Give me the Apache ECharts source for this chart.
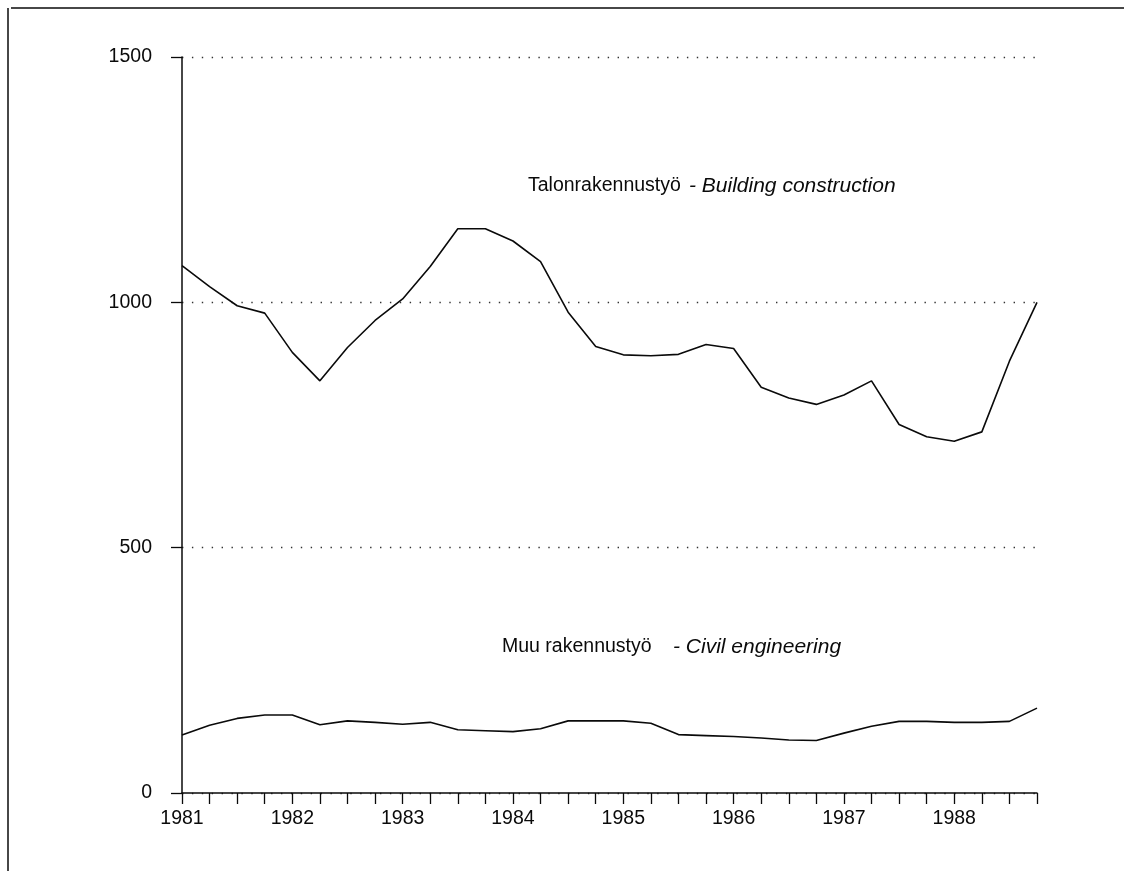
<!DOCTYPE html>
<html>
<head>
<meta charset="utf-8">
<script src="https://cdn.jsdelivr.net/npm/echarts@6/dist/echarts.min.js"></script>
<style>
  html, body { margin: 0; padding: 0; background: #fff; }
  #chart { width: 1124px; height: 871px; }
</style>
</head>
<body>
<div id="chart"></div>
<script>
const years = ['1981', '1982', '1983', '1984', '1985', '1986', '1987', '1988'];
const quarters = ['I', 'II', 'III', 'IV'];
const yTicks = [0, 500, 1000, 1500];

const building = [1075, 1032, 993, 978, 898, 840, 908, 963,
                  1007, 1073, 1150, 1150, 1125, 1083, 980, 910,
                  893, 891, 894, 914, 906, 827, 805, 792,
                  811, 840, 751, 726, 717, 736, 880, 1000];

const civil = [118, 138, 152, 159, 159, 139, 147, 144,
               140, 144, 129, 127, 125, 131, 147, 147,
               147, 142, 119, 117, 115, 112, 108, 107,
               122, 136, 146, 146, 144, 144, 146, 173];

const labelBuildingFi = 'Talonrakennustyö';
const labelBuildingEn = '- Building construction';
const labelCivilFi = 'Muu rakennustyö';
const labelCivilEn = '- Civil engineering';

const categories = [];
years.forEach(y => quarters.forEach(q => categories.push(y + ' ' + q)));

const FONT = '"Liberation Sans", Arial, Helvetica, sans-serif';
const INK = '#0a0a0a';

const chart = echarts.init(document.getElementById('chart'), null, { renderer: 'canvas' });

function txt(left, top, text, italic, size) {
  return {
    type: 'text', left: left, top: top,
    style: {
      text: text,
      fill: INK,
      font: (italic ? 'italic ' : '') + size + 'px ' + FONT
    }
  };
}

chart.setOption({
  backgroundColor: '#fff',
  animation: false,
  grid: { left: 182, right: 87, top: 57, bottom: 78, containLabel: false },
  xAxis: {
    type: 'category',
    data: categories,
    boundaryGap: false,
    axisLine: { show: true, lineStyle: { color: INK, width: 1.5 } },
    axisTick: { show: true, interval: 0, length: 11, lineStyle: { color: INK, width: 1.3 } },
    axisLabel: {
      interval: 3,
      margin: 16,
      color: INK,
      fontFamily: FONT,
      fontSize: 19.5,
      formatter: v => v.split(' ')[0]
    },
    splitLine: { show: false }
  },
  yAxis: {
    type: 'value',
    min: yTicks[0],
    max: yTicks[yTicks.length - 1],
    interval: 500,
    axisLine: { show: true, lineStyle: { color: INK, width: 1.5 } },
    axisTick: { show: true, length: 11, lineStyle: { color: INK, width: 1.3 } },
    axisLabel: {
      margin: 30,
      color: INK,
      fontFamily: FONT,
      fontSize: 19.5,
      formatter: v => String(v)
    },
    splitLine: {
      show: true,
      lineStyle: { color: '#333', width: 1.4, type: [1.4, 8.5] }
    }
  },
  series: [
    {
      name: labelBuildingEn,
      type: 'line',
      data: building,
      symbol: 'none',
      lineStyle: { color: INK, width: 1.6 },
      z: 5
    },
    {
      name: labelCivilEn,
      type: 'line',
      data: civil,
      symbol: 'none',
      lineStyle: { color: INK, width: 1.6 },
      z: 5
    }
  ],
  graphic: [
    { type: 'line', shape: { x1: 11, y1: 8, x2: 1124, y2: 8 }, style: { stroke: INK, lineWidth: 1.5 } },
    { type: 'line', shape: { x1: 8, y1: 8, x2: 8, y2: 871 }, style: { stroke: INK, lineWidth: 1.5 } },
    txt(528, 176, labelBuildingFi, false, 19.5),
    txt(689, 176, labelBuildingEn, true, 21),
    txt(502, 637, labelCivilFi, false, 19.5),
    txt(673, 637, labelCivilEn, true, 21)
  ]
});
</script>
</body>
</html>
